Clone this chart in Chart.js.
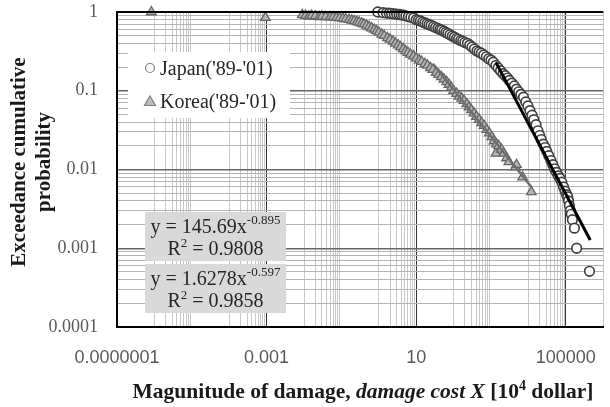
<!DOCTYPE html>
<html>
<head>
<meta charset="utf-8">
<script src="https://cdn.jsdelivr.net/npm/chart.js@4.4.1/dist/chart.umd.min.js"></script>
<style>
  html, body { margin: 0; padding: 0; background: #fff; }
</style>
</head>
<body>
<canvas id="chart" width="610" height="407"></canvas>
<script>
// Japan ('89-'01) exceedance points
const japanX = [0.94, 1.3, 1.6, 1.9, 2.2, 2.6, 3.0, 3.5, 4.0, 4.6, 5.3, 6.2, 7.2, 8.5, 10, 11.5, 13, 15, 17, 19.5,
  22, 25, 29, 33, 38, 43, 48, 55, 62, 70, 80, 92, 105, 120, 135, 155, 175, 200, 234, 270,
  310, 360, 420, 480, 550, 640, 750, 870, 1000, 1150, 1350, 1550, 1800, 2100, 2400, 2750, 3100, 3600, 4200, 4800,
  5500, 6300, 7400, 8500, 9700, 11000, 12500, 14000, 16000, 18000, 20000, 22000, 25000, 28000, 31000, 35000, 40000, 45000, 50000, 56000,
  63000, 70000, 78000, 87000, 96000, 105000, 112000, 118000, 125000, 132000, 140000, 150000, 170000, 195000, 430000];
const japanY = [1.0, 0.98, 0.97, 0.965, 0.955, 0.945, 0.94, 0.93, 0.92, 0.91, 0.895, 0.875, 0.86, 0.84, 0.8, 0.785, 0.77, 0.745, 0.725, 0.71,
  0.69, 0.675, 0.655, 0.635, 0.62, 0.6, 0.59, 0.57, 0.55, 0.535, 0.515, 0.495, 0.48, 0.46, 0.45, 0.435, 0.425, 0.41, 0.4, 0.38,
  0.36, 0.34, 0.32, 0.31, 0.3, 0.285, 0.27, 0.255, 0.245, 0.23, 0.21, 0.195, 0.18, 0.165, 0.155, 0.145, 0.135, 0.125, 0.115, 0.105,
  0.097, 0.09, 0.083, 0.072, 0.064, 0.056, 0.049, 0.043, 0.037, 0.031, 0.027, 0.024, 0.021, 0.019, 0.017, 0.015, 0.013, 0.0115, 0.0102, 0.0092,
  0.0083, 0.0077, 0.0069, 0.006, 0.0053, 0.0048, 0.0045, 0.004, 0.0035, 0.003, 0.0027, 0.0023, 0.0018, 0.001, 0.00051];

// Korea ('89-'01) exceedance points
const koreaX = [8.3e-7, 9.3e-4, 0.009, 0.011, 0.0135, 0.016, 0.02, 0.026, 0.03, 0.038, 0.05, 0.06, 0.074, 0.09, 0.11, 0.13,
  0.16, 0.19, 0.22, 0.26, 0.3, 0.35, 0.4, 0.47, 0.55, 0.64, 0.75, 0.87, 1.0, 1.2, 1.4, 1.7, 2.0, 2.4, 2.8, 3.3,
  3.8, 4.5, 5.2, 6, 7, 8.5, 10, 12, 14, 17, 20, 24, 28, 34, 40, 47, 55, 65, 75, 87, 100, 120, 140, 165,
  190, 225, 260, 300, 350, 410, 480, 560, 650, 770, 900, 1050, 1200, 1350, 1400, 1600, 1900, 2200, 2600, 3000,
  4500, 4800, 7000, 12000];
const koreaY = [1.0, 0.85, 0.92, 0.9, 0.88, 0.9, 0.89, 0.87, 0.88, 0.87, 0.86, 0.86, 0.85, 0.84, 0.83, 0.815,
  0.8, 0.785, 0.77, 0.75, 0.74, 0.72, 0.7, 0.675, 0.65, 0.625, 0.6, 0.575, 0.55, 0.52, 0.5, 0.47, 0.45, 0.425, 0.4, 0.38,
  0.36, 0.34, 0.32, 0.305, 0.29, 0.275, 0.26, 0.245, 0.235, 0.22, 0.21, 0.195, 0.185, 0.17, 0.16, 0.15, 0.14, 0.13, 0.12, 0.11, 0.1, 0.092, 0.085, 0.08,
  0.075, 0.068, 0.062, 0.057, 0.052, 0.047, 0.043, 0.039, 0.036, 0.032, 0.029, 0.026, 0.023, 0.016, 0.021, 0.02, 0.018, 0.016, 0.014, 0.0125,
  0.0107, 0.0115, 0.008, 0.0052];

// power trend lines (visible ends)
const japanTrendX = [1350, 450000];
const japanTrendY = [0.229, 0.00127];
const koreaTrendX = [28, 12000];
const koreaTrendY = [0.22, 0.006];

// axis labels
const yDecades = [0.0001, 0.001, 0.01, 0.1, 1];
const yDecadeLabels = ['0.0001', '0.001', '0.01', '0.1', '1'];
const xMajors = [1e-7, 1e-3, 10, 1e5];
const xMajorLabels = ['0.0000001', '0.001', '10', '100000'];

const seriesNames = ["Japan('89-'01)", "Korea('89-'01)"];
const equations = [
  { main: 'y = 145.69x', exp: '-0.895', r2: '0.9808' },
  { main: 'y = 1.6278x', exp: '-0.597', r2: '0.9858' }
];

// gridline positions
const yTicks = [], yTickText = [], yTickMajor = [];
for (let d = 0; d < yDecades.length; d++) {
  const k0 = d === yDecades.length - 1 ? 1 : 9;
  for (let k = 1; k <= k0; k++) {
    yTicks.push(yDecades[d] * k);
    yTickText.push(k === 1 ? yDecadeLabels[d] : '');
    yTickMajor.push(k === 1);
  }
}
const xTicks = [], xTickText = [], xTickMajor = [];
xMajors.forEach((m, i) => {
  xTicks.push(m); xTickText.push(xMajorLabels[i]); xTickMajor.push(true);
  [10, 1000].forEach(f => {
    for (let k = 1; k <= 9; k++) {
      const v = m * f * k;
      if (v > 1e6) continue;
      xTicks.push(v); xTickText.push(''); xTickMajor.push(false);
    }
  });
});

const SERIF = '"Liberation Serif", "Times New Roman", serif';
const SANS = '"Liberation Sans", Arial, sans-serif';

const decorations = {
  id: 'decorations',
  afterDraw(chart) {
    const ctx = chart.ctx;
    const a = chart.chartArea;
    ctx.save();
    // top border
    ctx.strokeStyle = '#000';
    ctx.lineWidth = 2;
    ctx.beginPath();
    ctx.moveTo(a.left, a.top);
    ctx.lineTo(a.right, a.top);
    ctx.stroke();

    // legend
    ctx.fillStyle = '#fff';
    ctx.fillRect(128, 52, 162, 66);
    ctx.font = '20px ' + SERIF;
    ctx.fillStyle = '#262626';
    ctx.textBaseline = 'alphabetic';
    ctx.textAlign = 'left';
    ctx.fillText(seriesNames[0], 160, 75);
    ctx.fillText(seriesNames[1], 160, 108);
    ctx.lineWidth = 1.2;
    ctx.strokeStyle = '#7f7f7f';
    ctx.fillStyle = '#fff';
    ctx.beginPath();
    ctx.arc(150, 68, 4.5, 0, Math.PI * 2);
    ctx.fill(); ctx.stroke();
    ctx.fillStyle = '#bfbfbf';
    ctx.beginPath();
    ctx.moveTo(150, 96); ctx.lineTo(155.5, 105.5); ctx.lineTo(144.5, 105.5); ctx.closePath();
    ctx.fill(); ctx.stroke();

    // trendline equations
    const boxes = [212, 264];
    equations.forEach((eq, i) => {
      const top = boxes[i];
      ctx.fillStyle = '#d9d9d9';
      ctx.fillRect(145, top, 141, 49);
      ctx.fillStyle = '#262626';
      ctx.font = '20px ' + SERIF;
      const w1 = ctx.measureText(eq.main).width;
      ctx.font = '13px ' + SERIF;
      const w2 = ctx.measureText(eq.exp).width;
      const cx = 215.5;
      let x = cx - (w1 + w2) / 2;
      ctx.font = '20px ' + SERIF;
      ctx.fillText(eq.main, x, top + 21);
      ctx.font = '13px ' + SERIF;
      ctx.fillText(eq.exp, x + w1, top + 12);
      // R² line
      ctx.font = '20px ' + SERIF;
      const r = 'R', rest = ' = ' + eq.r2;
      const wr = ctx.measureText(r).width, wrest = ctx.measureText(rest).width;
      ctx.font = '13px ' + SERIF;
      const w2sup = ctx.measureText('2').width;
      x = cx - (wr + w2sup + wrest) / 2;
      ctx.font = '20px ' + SERIF;
      ctx.fillText(r, x, top + 43);
      ctx.font = '13px ' + SERIF;
      ctx.fillText('2', x + wr, top + 35);
      ctx.font = '20px ' + SERIF;
      ctx.fillText(rest, x + wr + w2sup, top + 43);
    });

    // x axis title
    const parts = [
      { t: 'Magunitude of damage, ', f: 'bold 21.5px ' + SERIF, dy: 0 },
      { t: 'damage cost X', f: 'italic bold 21.5px ' + SERIF, dy: 0 },
      { t: ' [10', f: 'bold 21.5px ' + SERIF, dy: 0 },
      { t: '4', f: 'bold 14px ' + SERIF, dy: -8 },
      { t: ' dollar]', f: 'bold 21.5px ' + SERIF, dy: 0 }
    ];
    let total = 0;
    parts.forEach(p => { ctx.font = p.f; p.w = ctx.measureText(p.t).width; total += p.w; });
    let px = 363 - total / 2;
    ctx.fillStyle = '#1a1a1a';
    parts.forEach(p => { ctx.font = p.f; ctx.fillText(p.t, px, 398 + p.dy); px += p.w; });

    // y axis title
    ctx.translate(0, 162);
    ctx.rotate(-Math.PI / 2);
    ctx.textAlign = 'center';
    ctx.font = 'bold 21px ' + SERIF;
    ctx.fillText('Exceedance cumulative', 0, 25);
    ctx.fillText('probability', 0, 50);
    ctx.restore();
  }
};

const toPoints = (xs, ys) => xs.map((x, i) => ({ x: x, y: ys[i] }));

new Chart(document.getElementById('chart'), {
  type: 'scatter',
  data: {
    datasets: [
      { label: 'Japan trend', data: toPoints(japanTrendX, japanTrendY), showLine: true, borderColor: '#000',
        borderWidth: 3, pointRadius: 0, order: 0, clip: false },
      { label: 'Korea trend', data: toPoints(koreaTrendX, koreaTrendY), showLine: true, borderColor: '#6e6e6e',
        borderWidth: 2.5, pointRadius: 0, order: 1, clip: false },
      { label: seriesNames[0], data: toPoints(japanX, japanY), pointStyle: 'circle', pointRadius: 4.8,
        backgroundColor: '#fff', borderColor: '#404040', borderWidth: 1.7, order: 2, clip: false },
      { label: seriesNames[1], data: toPoints(koreaX, koreaY), pointStyle: 'triangle', pointRadius: 5.5,
        backgroundColor: '#b3b3b3', borderColor: '#666', borderWidth: 1.3, order: 3, clip: false }
    ]
  },
  options: {
    responsive: false,
    animation: false,
    events: [],
    layout: { padding: { top: 12, right: 0, left: 0, bottom: 0 } },
    plugins: { legend: { display: false }, tooltip: { enabled: false } },
    scales: {
      x: {
        type: 'logarithmic',
        min: 1e-7,
        max: 1e6,
        afterBuildTicks: s => { s.ticks = xTicks.map(v => ({ value: v })); },
        afterFit: s => { s.height = 80; s.paddingLeft = 0; s.paddingRight = 0; },
        ticks: {
          autoSkip: false, maxRotation: 0, padding: 20, color: '#595959',
          font: { family: SANS, size: 18 },
          callback: (v, i) => xTickText[i]
        },
        grid: {
          drawTicks: false,
          color: c => xTickMajor[c.index] ? '#333' : '#c8c8c8',
          lineWidth: 1
        },
        border: { display: true, color: '#000', width: 2 }
      },
      y: {
        type: 'logarithmic',
        min: 1e-4,
        max: 1,
        afterBuildTicks: s => { s.ticks = yTicks.map(v => ({ value: v })); },
        afterFit: s => { s.width = 117; s.paddingTop = 0; s.paddingBottom = 0; },
        ticks: {
          autoSkip: false, padding: 19, color: '#595959',
          font: { family: SERIF, size: 18 },
          callback: (v, i) => yTickText[i]
        },
        grid: {
          drawTicks: false,
          color: c => yTickMajor[c.index] ? '#666' : '#b4b4b4',
          lineWidth: c => yTickMajor[c.index] ? 1.5 : 1
        },
        border: { display: true, color: '#000', width: 2 }
      }
    }
  },
  plugins: [decorations]
});
</script>
</body>
</html>
